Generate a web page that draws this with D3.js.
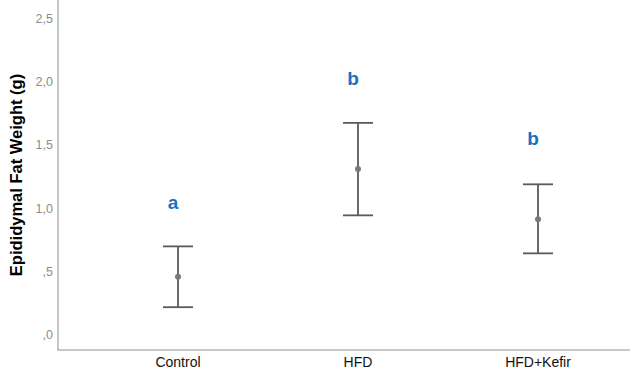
<!DOCTYPE html>
<html>
<head>
<meta charset="utf-8">
<script src="https://cdn.jsdelivr.net/npm/d3@7"></script>
<style>
  body { margin: 0; background: #fff; }
  svg { display: block; font-family: "Liberation Sans", Arial, sans-serif; }
</style>
</head>
<body>
<div id="chart"></div>
<script>
//chart data
var groups = ["Control", "HFD", "HFD+Kefir"];
var means = [0.46, 1.31, 0.915];
var lower = [0.22, 0.945, 0.645];
var upper = [0.70, 1.675, 1.19];
var letters = ["a", "b", "b"];
var letterPos = [1.05, 2.03, 1.555];
var yTicks = [0, 0.5, 1.0, 1.5, 2.0, 2.5];
var yTickLabels = [",0", ",5", "1,0", "1,5", "2,0", "2,5"];

//svg dimensions
var svgWidth = 630;
var svgHeight = 372;
var margin = { top: 0, right: 0, bottom: 22, left: 58 };
var height = svgHeight - margin.top - margin.bottom;

var svg = d3.select("#chart")
    .append("svg")
    .attr("width", svgWidth)
    .attr("height", svgHeight);

//scales
var yScale = d3.scaleLinear().domain([-0.118, 2.645]).range([height, 0]);
var xScale = d3.scalePoint().domain(groups).range([178, 538]);

//axis lines
svg.append("line")
    .attr("x1", margin.left).attr("x2", margin.left)
    .attr("y1", 0).attr("y2", height)
    .attr("stroke", "#b4b4b4").attr("stroke-width", 1.5);
svg.append("line")
    .attr("x1", margin.left - 0.75).attr("x2", svgWidth)
    .attr("y1", height).attr("y2", height)
    .attr("stroke", "#b4b4b4").attr("stroke-width", 1.5);

//y tick labels
svg.selectAll(".ytick")
    .data(yTicks)
    .enter()
    .append("text")
    .attr("class", "ytick")
    .attr("x", 53)
    .attr("y", d => yScale(d))
    .attr("dy", "0.35em")
    .attr("text-anchor", "end")
    .attr("font-size", "12.5px")
    .attr("fill", "#8c8c8c")
    .text((d, i) => yTickLabels[i]);

//y axis title
svg.append("text")
    .attr("transform", "translate(22," + 175 + ") rotate(-90)")
    .attr("text-anchor", "middle")
    .attr("font-size", "16.5px")
    .attr("font-weight", "bold")
    .attr("fill", "#000")
    .text("Epididymal Fat Weight (g)");

//x labels
svg.selectAll(".xlabel")
    .data(groups)
    .enter()
    .append("text")
    .attr("class", "xlabel")
    .attr("x", d => xScale(d))
    .attr("y", 367)
    .attr("text-anchor", "middle")
    .attr("font-size", "14px")
    .attr("fill", "#111")
    .text(d => d);

//error bars
var bars = svg.selectAll(".err")
    .data(groups)
    .enter()
    .append("g")
    .attr("class", "err");

bars.append("line")
    .attr("x1", d => xScale(d)).attr("x2", d => xScale(d))
    .attr("y1", (d, i) => yScale(upper[i]))
    .attr("y2", (d, i) => yScale(lower[i]))
    .attr("stroke", "#5a5a5a").attr("stroke-width", 1.8);

bars.append("line")
    .attr("x1", d => xScale(d) - 15).attr("x2", d => xScale(d) + 15)
    .attr("y1", (d, i) => yScale(upper[i]))
    .attr("y2", (d, i) => yScale(upper[i]))
    .attr("stroke", "#5a5a5a").attr("stroke-width", 1.8);

bars.append("line")
    .attr("x1", d => xScale(d) - 15).attr("x2", d => xScale(d) + 15)
    .attr("y1", (d, i) => yScale(lower[i]))
    .attr("y2", (d, i) => yScale(lower[i]))
    .attr("stroke", "#5a5a5a").attr("stroke-width", 1.8);

bars.append("circle")
    .attr("cx", d => xScale(d))
    .attr("cy", (d, i) => yScale(means[i]))
    .attr("r", 3)
    .attr("fill", "#7a7a7a");

//significance letters
svg.selectAll(".letter")
    .data(groups)
    .enter()
    .append("text")
    .attr("class", "letter")
    .attr("x", d => xScale(d) - 5)
    .attr("y", (d, i) => yScale(letterPos[i]))
    .attr("dy", "0.35em")
    .attr("text-anchor", "middle")
    .attr("font-size", "19px")
    .attr("font-weight", "bold")
    .attr("fill", "#1a70c2")
    .text((d, i) => letters[i]);
</script>
</body>
</html>
